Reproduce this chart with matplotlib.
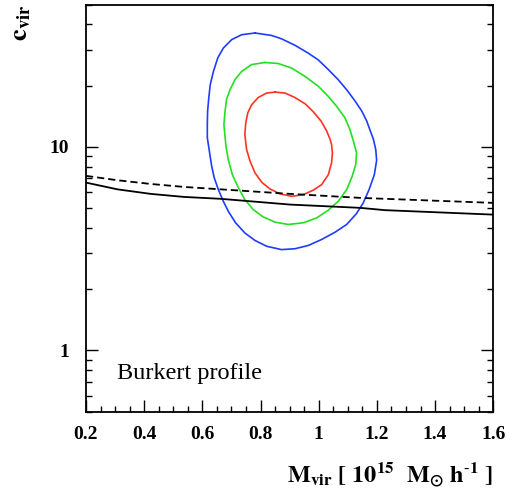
import numpy as np
import matplotlib
matplotlib.use("Agg")
import matplotlib.pyplot as plt
from matplotlib.ticker import MultipleLocator, LogLocator, FixedLocator, NullFormatter

plt.rcParams['font.family'] = ['Liberation Serif', 'DejaVu Serif']
plt.rcParams['mathtext.fontset'] = 'stix'

# ---- data (M_vir, c_vir) ----
blue_x = [0.781, 0.838, 0.872, 0.918, 0.964, 0.998, 1.033, 1.067, 1.096, 1.125, 1.148, 1.165,
          1.178, 1.188, 1.196, 1.199, 1.191, 1.173, 1.153, 1.130, 1.096, 1.056, 1.010, 0.964,
          0.918, 0.872, 0.821, 0.781, 0.746, 0.714, 0.689, 0.672, 0.655, 0.641, 0.632, 0.625,
          0.617, 0.617, 0.618, 0.622, 0.627, 0.638, 0.653, 0.672, 0.701, 0.735]
blue_y = [36.3, 35.3, 34.0, 31.6, 28.9, 26.8, 24.0, 21.4, 19.1, 16.8, 15.0, 13.4,
          11.9, 10.9, 9.70, 8.60, 7.30, 6.17, 5.31, 4.71, 4.16, 3.81, 3.51, 3.28,
          3.16, 3.13, 3.25, 3.47, 3.78, 4.24, 4.83, 5.41, 6.17, 7.04, 8.04, 9.34,
          11.1, 12.9, 15.0, 17.4, 20.2, 23.5, 27.4, 30.6, 33.7, 35.6]

green_x = [0.815, 0.861, 0.907, 0.953, 0.998, 1.033, 1.062, 1.090, 1.107, 1.119, 1.130, 1.127,
           1.115, 1.096, 1.067, 1.033, 0.993, 0.947, 0.895, 0.850, 0.809, 0.775, 0.746, 0.724,
           0.703, 0.689, 0.681, 0.674, 0.678, 0.683, 0.695, 0.712, 0.735, 0.769]
green_y = [26.0, 25.7, 24.4, 22.2, 19.9, 17.7, 15.8, 13.9, 12.2, 10.7, 9.34, 8.19,
           7.18, 6.17, 5.41, 4.89, 4.48, 4.24, 4.16, 4.27, 4.53, 4.92, 5.51, 6.29,
           7.31, 8.67, 10.1, 12.9, 15.0, 17.1, 19.1, 21.4, 23.5, 25.4]

red_x = [0.850, 0.884, 0.918, 0.953, 0.981, 1.008, 1.027, 1.039, 1.044, 1.047, 1.044, 1.033,
         1.010, 0.981, 0.947, 0.907, 0.867, 0.832, 0.804, 0.781, 0.764, 0.752, 0.746, 0.749,
         0.756, 0.769, 0.792, 0.821]
red_y = [18.6, 18.4, 17.5, 16.3, 14.9, 13.4, 12.0, 10.9, 10.3, 9.34, 8.34, 7.31,
         6.53, 6.13, 5.83, 5.72, 5.88, 6.22, 6.71, 7.45, 8.51, 9.70, 11.5, 13.1,
         14.7, 16.1, 17.5, 18.4]

line_x = [0.2, 0.308, 0.422, 0.537, 0.663, 0.901, 1.142, 1.228, 1.6]
dashed_y = [7.21, 6.86, 6.58, 6.36, 6.19, 5.88, 5.62, 5.56, 5.31]
solid_y = [6.68, 6.19, 5.88, 5.68, 5.56, 5.21, 5.02, 4.89, 4.65]

x_ticks = [0.2, 0.4, 0.6, 0.8, 1.0, 1.2, 1.4, 1.6]
x_ticklabels = ['0.2', '0.4', '0.6', '0.8', '1', '1.2', '1.4', '1.6']
y_ticks = [1, 10]
y_ticklabels = ['1', '10']
label_text = 'Burkert profile'

# ---- figure ----
fig = plt.figure(figsize=(5.19, 4.90), dpi=100)
ax = fig.add_axes([86/519, 1-411.7/490, (493.3-86)/519, (411.7-4.7)/490])

def closed(xs, ys):
    return list(xs) + [xs[0]], list(ys) + [ys[0]]

for xs, ys, c in [(blue_x, blue_y, '#1f3cff'), (green_x, green_y, '#22e022'), (red_x, red_y, '#ff3322')]:
    cx, cy = closed(xs, ys)
    ax.plot(cx, cy, color=c, lw=1.2, solid_joinstyle='round', solid_capstyle='round')

ax.plot(line_x, solid_y, color='black', lw=1.3)
ax.plot(line_x, dashed_y, color='black', lw=1.3, ls=(0, (4, 2.2)))

ax.set_yscale('log')
ax.set_xlim(0.2, 1.6)
ax.set_ylim(0.5, 50)

ax.xaxis.set_major_locator(FixedLocator(x_ticks))
ax.set_xticklabels(x_ticklabels)
ax.xaxis.set_minor_locator(MultipleLocator(0.05))
ax.yaxis.set_major_locator(FixedLocator(y_ticks))
ax.set_yticklabels(y_ticklabels)
ax.yaxis.set_minor_locator(LogLocator(base=10, subs=np.arange(2, 10)))
ax.yaxis.set_minor_formatter(NullFormatter())

ax.tick_params(axis='both', which='both', direction='in', top=False, right=True, width=1.0)
ax.tick_params(axis='both', which='major', length=8.6)
ax.tick_params(axis='both', which='minor', length=4.3)
ax.tick_params(axis='x', which='major', pad=10)
ax.tick_params(axis='y', which='major', pad=12)
for lab in ax.get_xticklabels() + ax.get_yticklabels():
    lab.set_fontweight('bold')
    lab.set_fontsize(14)
for s in ax.spines.values():
    s.set_linewidth(1.3)

ax.text(0.075, 0.080, label_text, transform=ax.transAxes, fontsize=17.5, ha='left', va='baseline')

fig.text(493/519, 1-482/490, r'$\mathbf{M_{vir}\ [\ 10^{15}\ \ M_{\odot}\ h^{\text{-}1}\ ]}$',
         ha='right', va='baseline', fontsize=17.5)
fig.text(22/519, 1-5/490, r'$\mathbf{c_{vir}}$', rotation=90, ha='center', va='top', fontsize=19)

fig.savefig('out.png', dpi=100)
